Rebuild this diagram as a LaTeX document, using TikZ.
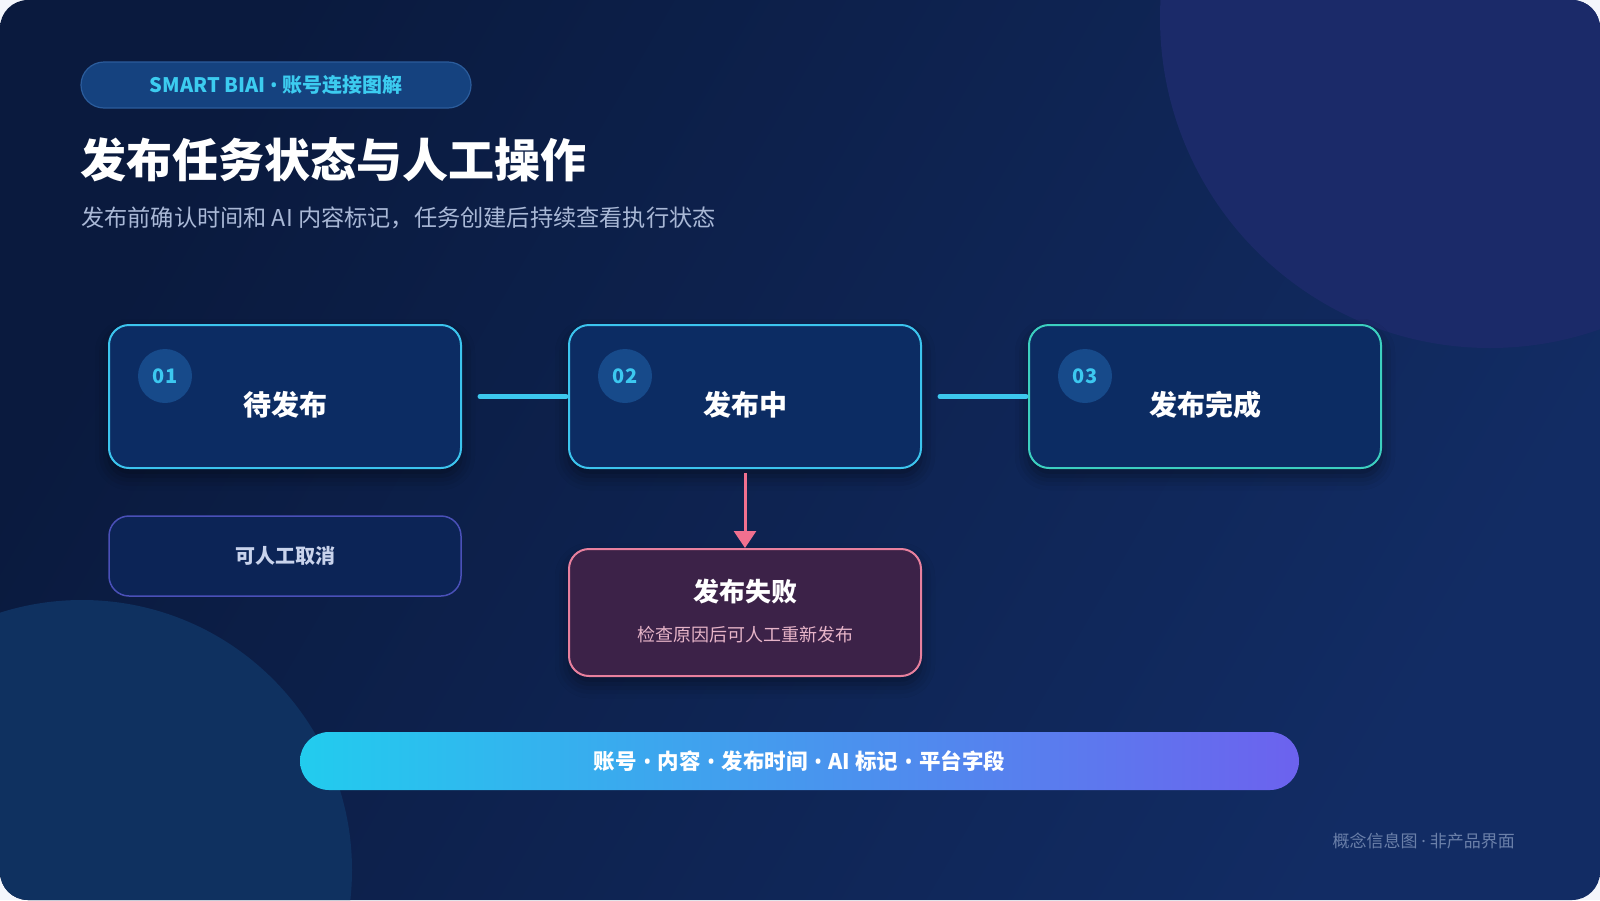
\documentclass[tikz,border=0pt]{standalone}
\usepackage{fontspec}
\setmainfont{Noto Sans CJK SC}
\newfontfamily\latinf{Noto Sans}
\newcommand{\bul}{{\latinf •}}
\newcommand{\bbul}{\hspace{1.5pt}{\latinf •}\hspace{1.5pt}}
\newcommand{\mdt}{{\latinf ·}}
\usetikzlibrary{arrows.meta,shadows.blur}
\definecolor{pageW}{HTML}{F4F6FC}
\definecolor{bgA}{HTML}{0A1A3E}
\definecolor{bgB}{HTML}{122C64}
\definecolor{circTR}{HTML}{1B2A69}
\definecolor{circBL}{HTML}{0F3160}
\definecolor{boxF}{HTML}{0C2C63}
\definecolor{cyanB}{HTML}{3CC4EE}
\definecolor{tealB}{HTML}{3CCFC0}
\definecolor{purpB}{HTML}{4A50B8}
\definecolor{pinkB}{HTML}{E8809E}
\definecolor{failF}{HTML}{3C2248}
\definecolor{numF}{HTML}{174A8A}
\definecolor{numT}{HTML}{3CC8F0}
\definecolor{tagF}{HTML}{15427F}
\definecolor{tagB}{HTML}{2B5C9C}
\definecolor{tagT}{HTML}{3CCCF0}
\definecolor{subT}{HTML}{A9B8D6}
\definecolor{footT}{HTML}{6B80A9}
\definecolor{cancelT}{HTML}{C9D3EC}
\definecolor{cancelF}{HTML}{0C2456}
\definecolor{failT}{HTML}{E6B4C8}
\definecolor{connC}{HTML}{3CC8EE}
\definecolor{arrC}{HTML}{F0708F}
\definecolor{barL}{HTML}{22CCEE}
\definecolor{barR}{HTML}{6C62EE}
\begin{document}
\begin{tikzpicture}[x=1pt,y=-1pt,
  state/.style={draw=cyanB, line width=2pt, fill=boxF, rounded corners=20pt,
    minimum width=352pt, minimum height=143pt, inner sep=0pt,
    blur shadow={shadow xshift=0pt, shadow yshift=-8pt, shadow blur radius=14pt, shadow opacity=45}},
  numc/.style={circle, fill=numF, minimum size=54pt, inner sep=0pt, text=numT,
    font=\fontsize{20}{20}\selectfont\bfseries},
  lbl/.style={text=white, inner sep=0pt, font=\fontsize{28}{28}\selectfont\bfseries},
  conn/.style={draw=connC, line width=5pt, line cap=round, shorten <=18pt, shorten >=2pt},
  arr/.style={draw=arrC, line width=3pt, shorten <=4pt, -{Triangle[width=22pt,length=17pt]}},
  cancelbox/.style={draw=purpB, line width=1.5pt, fill=cancelF, rounded corners=20pt,
    minimum width=352pt, minimum height=80pt, inner sep=0pt, text=cancelT,
    font=\fontsize{20}{20}\selectfont\bfseries},
  failbox/.style={draw=pinkB, line width=2pt, fill=failF, rounded corners=20pt,
    minimum width=352pt, minimum height=127pt, inner sep=0pt,
    blur shadow={shadow xshift=0pt, shadow yshift=-8pt, shadow blur radius=14pt, shadow opacity=40}},
  tag/.style={fill=tagF, draw=tagB, line width=1.2pt, rounded corners=23pt,
    minimum width=390pt, minimum height=46pt, inner sep=0pt, text=tagT,
    font=\fontsize{20}{20}\selectfont\bfseries},
  bar/.style={left color=barL, right color=barR, rounded corners=29pt,
    minimum width=999pt, minimum height=58pt, inner sep=0pt, text=white,
    font=\fontsize{21.5}{21.5}\selectfont\bfseries}
]
\useasboundingbox (0,0) rectangle (1600,900);
\fill[pageW] (0,0) rectangle (1600,900);
\begin{scope}
  \clip[rounded corners=28pt] (0,0) rectangle (1600,900);
  \shade[left color=bgA, right color=bgB, shading angle=60] (0,0) rectangle (1600,900);
  \fill[circTR] (1490,18) circle[radius=330];
  \fill[circBL] (82,870) circle[radius=270];
\end{scope}

% header
\node[tag] (tag) at (276,85) {SMART BIAI \bul{} 账号连接图解};
\node[anchor=west, inner sep=0pt, text=white, font=\fontsize{46}{46}\selectfont\bfseries] (title) at (80,160) {发布任务状态与人工操作};
\node[anchor=west, inner sep=0pt, text=subT, font=\fontsize{23.2}{24}\selectfont] (sub) at (81,218) {发布前确认时间和 AI 内容标记，任务创建后持续查看执行状态};

% state boxes
\node[state] (b1) at (285,396.5) {};
\node[state] (b2) at (745,396.5) {};
\node[state, draw=tealB] (b3) at (1205,396.5) {};
\node[numc] (n1) at (165,376) {01};
\node[numc] (n2) at (625,376) {02};
\node[numc] (n3) at (1085,376) {03};
\node[lbl] (t1) at (285,405) {待发布};
\node[lbl] (t2) at (745,405) {发布中};
\node[lbl] (t3) at (1205,405) {发布完成};

\draw[conn] (b1.east) -- (b2.west);
\draw[conn] (b2.east) -- (b3.west);

% cancel + fail
\node[cancelbox] (cancel) at (285,556) {可人工取消};
\node[failbox] (fail) at (745,612.5) {};
\node[lbl, font=\fontsize{26}{26}\selectfont\bfseries] (ft) at (745,592) {发布失败};
\node[inner sep=0pt, text=failT, font=\fontsize{18}{18}\selectfont] (fs) at (745,635) {检查原因后可人工重新发布};
\draw[arr] (b2.south) -- (fail.north);

% bottom bar
\node[bar] (bar) at (799.5,761) {账号 \bbul{} 内容 \bbul{} 发布时间 \bbul{} AI 标记 \bbul{} 平台字段};

% footer
\node[anchor=east, inner sep=0pt, text=footT, font=\fontsize{17}{17}\selectfont] (foot) at (1515,841) {概念信息图 \mdt{} 非产品界面};
\end{tikzpicture}
\end{document}
